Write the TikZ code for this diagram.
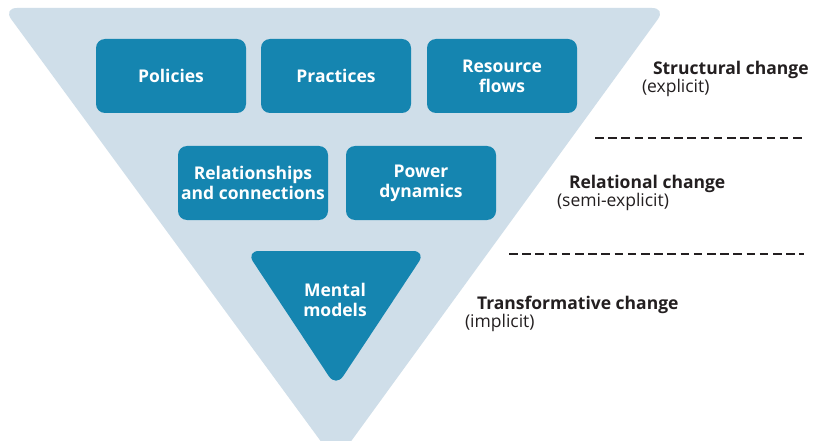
\documentclass[tikz,border=0pt]{standalone}
\usepackage{fontspec}
\setmainfont{Open Sans}
\begin{document}
\begin{tikzpicture}[x=1pt,y=-1pt,
  every node/.style={inner sep=0pt, outer sep=0pt},
  bigtri/.style={fill=lightblue},
  box/.style={fill=boxblue, rounded corners=9pt, minimum width=150pt, minimum height=74pt,
    text=white, font=\fontsize{17.5}{20}\selectfont\bfseries, align=center},
  boxtext/.style={text=white, font=\fontsize{17.5}{20}\selectfont\bfseries, align=center},
  head/.style={anchor=base west, text=labelink, font=\fontsize{17.5}{20}\selectfont\bfseries},
  sub/.style={anchor=base west, text=labelink, font=\fontsize{17.5}{20}\selectfont},
  sep/.style={draw=labelink, line width=2.5pt, dash pattern=on 8.5pt off 4.7pt}
]
\definecolor{lightblue}{RGB}{207,222,233}
\definecolor{boxblue}{RGB}{21,133,176}
\definecolor{labelink}{RGB}{35,31,32}
\clip (0,0) rectangle (825,441);
\fill[white] (0,0) rectangle (825,441);
% large inverted triangle
\fill[bigtri, rounded corners=14pt] (3,8) -- (666,8) -- (336,462) -- cycle;
% boxes
\node[box] (policies) at (171,76) {Policies};
\node[box] (practices) at (336,76) {Practices};
\node[box] (resource) at (502,76) {Resource\\flows};
\node[box] (relations) at (253,183) {Relationships\\and connections};
\node[box] (power) at (421,183) {Power\\dynamics};
% mental models triangle
\fill[boxblue, rounded corners=13pt] (246,251) -- (426,251) -- (336,387) -- cycle;
\node[boxtext] (mental) at (335,300) {Mental\\models};
% labels
\node[head] (struct) at (653,75) {Structural change};
\node[sub] (explicit) at (642,93) {(explicit)};
\node[head] (relat) at (569,189) {Relational change};
\node[sub] (semi) at (557,207) {(semi-explicit)};
\node[head] (transf) at (477,309) {Transformative change};
\node[sub] (implicit) at (465,327) {(implicit)};
% dashed separators
\coordinate (d1a) at (595,138);
\coordinate (d1b) at (805,138);
\coordinate (d2a) at (509,254);
\coordinate (d2b) at (804,254);
\draw[sep] (d1a) -- (d1b);
\draw[sep] (d2a) -- (d2b);
\end{tikzpicture}
\end{document}
